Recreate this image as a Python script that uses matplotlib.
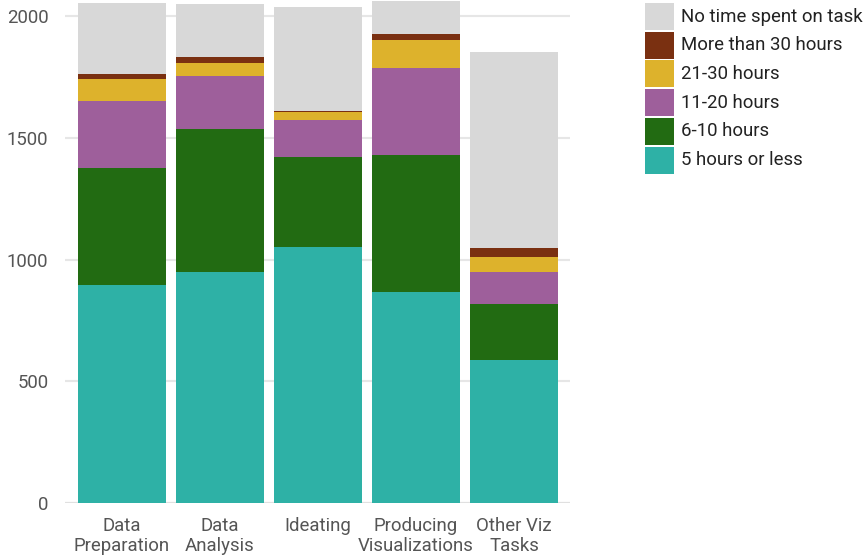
import matplotlib
matplotlib.use("Agg")
import matplotlib.pyplot as plt
from matplotlib.patches import Rectangle
import numpy as np

plt.rcParams["font.family"] = ["Roboto", "DejaVu Sans"]

# Kategorien und Werte
categories = ["Data\nPreparation", "Data\nAnalysis", "Ideating",
              "Producing\nVisualizations", "Other Viz\nTasks"]

five_or_less = [895, 950, 1053, 868, 587]
six_to_ten   = [482, 585, 369, 560, 230]
eleven_20    = [275, 217, 151, 357, 133]
twentyone_30 = [89, 54, 31, 116, 62]
more_than_30 = [21, 24, 7, 25, 36]
no_time      = [290, 218, 427, 136, 803]

series = [
    ("5 hours or less", five_or_less, "#2eb1a6"),
    ("6-10 hours", six_to_ten, "#226b12"),
    ("11-20 hours", eleven_20, "#9e5f9b"),
    ("21-30 hours", twentyone_30, "#ddb22c"),
    ("More than 30 hours", more_than_30, "#7a3011"),
    ("No time spent on task", no_time, "#d8d8d8"),
]

FS = 13.4
W, H = 863, 558
fig = plt.figure(figsize=(W / 100, H / 100), dpi=100)
ax = fig.add_axes([65 / W, (H - 503) / H, (570 - 65) / W, 503 / H])

x = np.arange(len(categories))
bottom = np.zeros(len(categories))
for label, vals, col in series:
    vals = np.array(vals, dtype=float)
    ax.bar(x, vals, bottom=bottom, width=0.9, color=col, label=label,
           edgecolor="none", zorder=2)
    bottom += vals

ax.set_xlim(-0.58, 4.57)
ax.set_ylim(0, 2066)
ax.set_yticks([0, 500, 1000, 1500, 2000])
ax.grid(axis="y", color="#e6e6e6", linewidth=1.5, zorder=0)
ax.set_axisbelow(True)
for s in ax.spines.values():
    s.set_visible(False)
ax.axhline(0, color="#e0e0e0", linewidth=1.5, zorder=1)

ax.set_xticks(x)
ax.set_xticklabels(categories, linespacing=1.15)
ax.tick_params(axis="both", length=0, labelsize=FS, colors="#555555")
ax.tick_params(axis="y", pad=12)
ax.tick_params(axis="x", pad=10)

# Legende von Hand (Reihenfolge: grau oben)
row_h = 28.7
for i, (label, vals, col) in enumerate(series[::-1]):
    top = 3 + i * row_h
    fig.patches.append(Rectangle((645 / W, 1 - (top + 27) / H), 29 / W, 27 / H,
                                 transform=fig.transFigure, facecolor=col,
                                 edgecolor="none"))
    fig.text(681 / W, 1 - (top + 13.5) / H, label, fontsize=FS,
             color="#222222", va="center", ha="left")

fig.savefig("out.png", dpi=100)
